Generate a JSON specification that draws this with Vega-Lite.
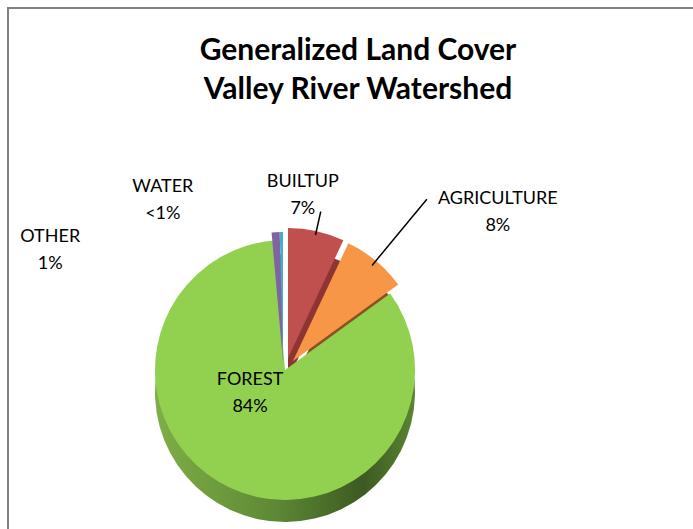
{
  "$schema": "https://vega.github.io/schema/vega-lite/v6.json",
  "autosize": "none",
  "width": 700,
  "height": 540,
  "padding": {"left": 8, "top": 8, "right": 0, "bottom": 0},
  "background": "white",
  "view": {"stroke": "#808080", "strokeWidth": 2},
  "config": {
    "view": {"stroke": "#808080", "strokeWidth": 2},
    "font": "Lato"
  },
  "title": {
    "text": ["Generalized Land Cover", "Valley River Watershed"],
    "font": "Lato",
    "fontSize": 30,
    "fontWeight": "bold",
    "color": "#000000",
    "lineHeight": 39,
    "anchor": "middle",
    "offset": -97
  },
  "data": {
    "values": [
      {"name": "BUILTUP", "label": "BUILTUP\n7%", "value": 7, "rank": 1},
      {"name": "AGRICULTURE", "label": "AGRICULTURE\n8%", "value": 8, "rank": 2},
      {"name": "FOREST", "label": "FOREST\n84%", "value": 83.6, "rank": 3},
      {"name": "OTHER", "label": "OTHER\n1%", "value": 1, "rank": 4},
      {"name": "WATER", "label": "WATER\n<1%", "value": 0.4, "rank": 5}
    ]
  },
  "encoding": {
    "theta": {"field": "value", "type": "quantitative", "stack": true},
    "order": {"field": "rank", "type": "quantitative"}
  },
  "layer": [
    {
      "mark": {"type": "arc", "x": 277, "y": 362, "radius": 130, "yOffset": 22,
        "fill": {"gradient": "linear", "x1": 0, "y1": 0, "x2": 1, "y2": 0,
          "stops": [{"offset": 0, "color": "#7fae46"}, {"offset": 0.45, "color": "#5f8a35"}, {"offset": 0.8, "color": "#3d5a22"}, {"offset": 1, "color": "#5a8532"}]}},
      "encoding": {"opacity": {"condition": {"test": "datum.name === 'FOREST'", "value": 1}, "value": 0}}
    },
    {
      "mark": {"type": "arc", "x": 277, "y": 362, "radius": 130, "xOffset": 3, "yOffset": 10, "fill": "#8e3533"},
      "encoding": {"opacity": {"condition": {"test": "datum.name === 'BUILTUP'", "value": 1}, "value": 0}}
    },
    {
      "mark": {"type": "arc", "x": 277, "y": 362, "radius": 130, "xOffset": 8, "yOffset": 13, "fill": "#8a5223"},
      "encoding": {"opacity": {"condition": {"test": "datum.name === 'AGRICULTURE'", "value": 1}, "value": 0}}
    },
    {
      "mark": {"type": "arc", "x": 277, "y": 362, "radius": 130, "xOffset": -2, "yOffset": 14},
      "encoding": {
        "fill": {"field": "name", "type": "nominal", "legend": null,
          "scale": {"domain": ["BUILTUP", "AGRICULTURE", "FOREST", "OTHER", "WATER"], "range": ["#8e3533", "#8a5223", "#5f8a35", "#4e3c64", "#2f7f94"]}},
        "opacity": {"condition": {"test": "datum.name === 'OTHER' || datum.name === 'WATER'", "value": 1}, "value": 0}
      }
    },
    {
      "mark": {"type": "arc", "x": 277, "y": 362, "radius": 130},
      "encoding": {
        "color": {"field": "name", "type": "nominal", "legend": null,
          "scale": {"domain": ["BUILTUP", "AGRICULTURE", "FOREST", "OTHER", "WATER"], "range": ["#c0504d", "#f79646", "#92d050", "#8064a2", "#4bacc6"]}},
        "opacity": {"condition": {"test": "datum.name === 'FOREST'", "value": 1}, "value": 0}
      }
    },
    {
      "mark": {"type": "arc", "x": 277, "y": 362, "radius": 130, "xOffset": 3, "yOffset": -12},
      "encoding": {
        "color": {"field": "name", "type": "nominal", "legend": null},
        "opacity": {"condition": {"test": "datum.name === 'BUILTUP'", "value": 1}, "value": 0}
      }
    },
    {
      "mark": {"type": "arc", "x": 277, "y": 362, "radius": 130, "xOffset": 8, "yOffset": -9},
      "encoding": {
        "color": {"field": "name", "type": "nominal", "legend": null},
        "opacity": {"condition": {"test": "datum.name === 'AGRICULTURE'", "value": 1}, "value": 0}
      }
    },
    {
      "mark": {"type": "arc", "x": 277, "y": 362, "radius": 130, "xOffset": -2, "yOffset": -8},
      "encoding": {
        "color": {"field": "name", "type": "nominal", "legend": null},
        "opacity": {"condition": {"test": "datum.name === 'OTHER' || datum.name === 'WATER'", "value": 1}, "value": 0}
      }
    },
    {
      "mark": {"type": "arc", "x": 277, "y": 362, "radius": 150, "radius2": 126, "padAngle": 1.2, "xOffset": 3, "yOffset": -12,
        "fill": "transparent", "stroke": "#000000", "strokeWidth": 1.5},
      "encoding": {"strokeOpacity": {"condition": {"test": "datum.name === 'BUILTUP'", "value": 1}, "value": 0}}
    },
    {
      "mark": {"type": "arc", "x": 277, "y": 362, "radius": 210, "radius2": 124, "padAngle": 1.2, "xOffset": 8, "yOffset": -9,
        "fill": "transparent", "stroke": "#000000", "strokeWidth": 1.5},
      "encoding": {"strokeOpacity": {"condition": {"test": "datum.name === 'AGRICULTURE'", "value": 1}, "value": 0}}
    },
    {
      "mark": {"type": "text", "x": 277, "y": 362, "radius": 178, "dx": -21, "dy": -14, "font": "Lato", "fontSize": 18, "lineBreak": "\n", "lineHeight": 27, "align": "center", "baseline": "middle", "color": "#000000"},
      "encoding": {"text": {"field": "label"}, "opacity": {"condition": {"test": "datum.name === 'BUILTUP'", "value": 1}, "value": 0}}
    },
    {
      "mark": {"type": "text", "x": 277, "y": 362, "radius": 210, "dx": 79, "dy": -9, "font": "Lato", "fontSize": 18, "lineBreak": "\n", "lineHeight": 27, "align": "center", "baseline": "middle", "color": "#000000"},
      "encoding": {"text": {"field": "label"}, "opacity": {"condition": {"test": "datum.name === 'AGRICULTURE'", "value": 1}, "value": 0}}
    },
    {
      "mark": {"type": "text", "x": 277, "y": 362, "radius": 36, "dx": -20, "dy": -23, "font": "Lato", "fontSize": 18, "lineBreak": "\n", "lineHeight": 27, "align": "center", "baseline": "middle", "color": "#000000"},
      "encoding": {"text": {"field": "label"}, "opacity": {"condition": {"test": "datum.name === 'FOREST'", "value": 1}, "value": 0}}
    },
    {
      "mark": {"type": "text", "x": 277, "y": 362, "radius": 120, "dx": -228, "dy": -13, "font": "Lato", "fontSize": 18, "lineBreak": "\n", "lineHeight": 27, "align": "center", "baseline": "middle", "color": "#000000"},
      "encoding": {"text": {"field": "label"}, "opacity": {"condition": {"test": "datum.name === 'OTHER'", "value": 1}, "value": 0}}
    },
    {
      "mark": {"type": "text", "x": 277, "y": 362, "radius": 173, "dx": -120, "dy": -10, "font": "Lato", "fontSize": 18, "lineBreak": "\n", "lineHeight": 27, "align": "center", "baseline": "middle", "color": "#000000"},
      "encoding": {"text": {"field": "label"}, "opacity": {"condition": {"test": "datum.name === 'WATER'", "value": 1}, "value": 0}}
    }
  ]
}
